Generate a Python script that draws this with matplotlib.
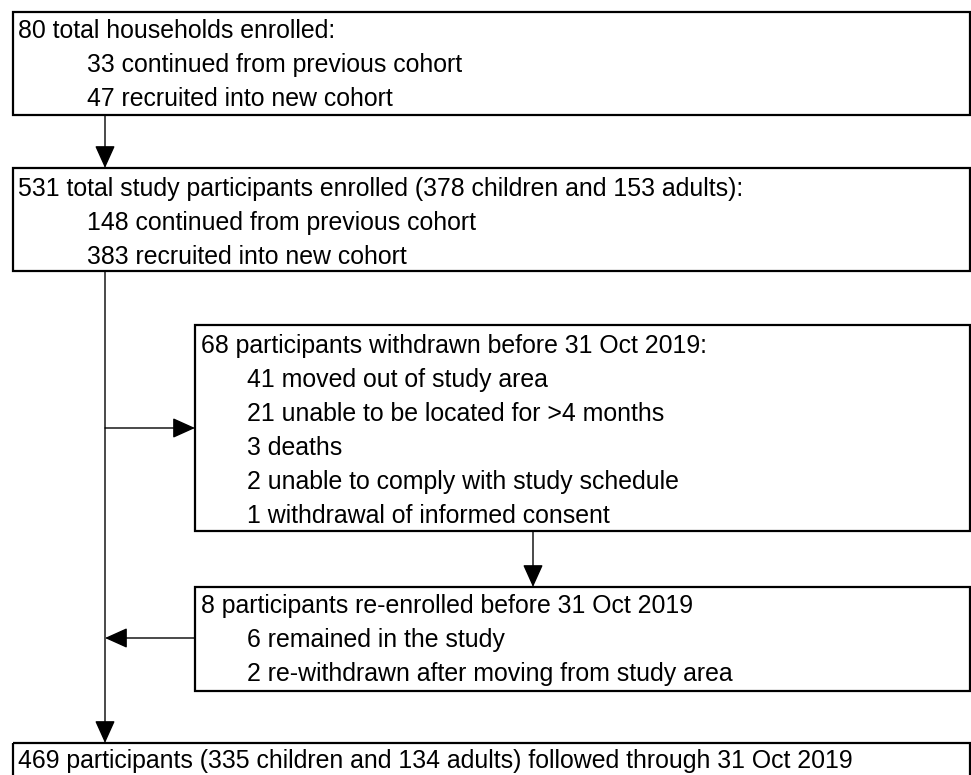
import matplotlib.pyplot as plt
from matplotlib.patches import Rectangle, FancyArrowPatch

plt.rcParams['font.family'] = ['Liberation Sans', 'DejaVu Sans']

households_header = "80 total households enrolled:"
households_items = ["33 continued from previous cohort", "47 recruited into new cohort"]

enrolled_header = "531 total study participants enrolled (378 children and 153 adults):"
enrolled_items = ["148 continued from previous cohort", "383 recruited into new cohort"]

withdrawn_header = "68 participants withdrawn before 31 Oct 2019:"
withdrawn_items = ["41 moved out of study area",
                   "21 unable to be located for >4 months",
                   "3 deaths",
                   "2 unable to comply with study schedule",
                   "1 withdrawal of informed consent"]

reenrolled_header = "8 participants re-enrolled before 31 Oct 2019"
reenrolled_items = ["6 remained in the study",
                    "2 re-withdrawn after moving from study area"]

final_header = "469 participants (335 children and 134 adults) followed through 31 Oct 2019"

W, H = 971, 775
fig = plt.figure(figsize=(W / 100, H / 100), dpi=100)
ax = fig.add_axes([0, 0, 1, 1])
ax.set_xlim(0, W)
ax.set_ylim(H, 0)
ax.axis('off')

fs = 17.9
line_h = 34


def box(x0, y0, x1, y1, header, items, hx, ix, base):
    ax.add_patch(Rectangle((x0, y0), x1 - x0, y1 - y0, fill=False,
                           edgecolor='black', linewidth=1.6))
    ax.text(hx, base, header, fontsize=fs, va='baseline', ha='left')
    for k, s in enumerate(items):
        ax.text(ix, base + line_h * (k + 1), s, fontsize=fs, va='baseline', ha='left')


def arrow(p0, p1):
    ax.add_patch(FancyArrowPatch(p0, p1, arrowstyle='-|>,head_length=1.0,head_width=0.45',
                                 mutation_scale=14, color='black', linewidth=1.0,
                                 shrinkA=0, shrinkB=0))


box(13, 12, 970, 115, households_header, households_items, 18, 87, 38)
box(13, 168, 970, 271, enrolled_header, enrolled_items, 18, 87, 196)
box(195, 325, 970, 531, withdrawn_header, withdrawn_items, 201, 247, 353)
box(195, 587, 970, 691, reenrolled_header, reenrolled_items, 201, 247, 613)
box(13, 743, 970, 800, final_header, [], 18, 87, 768)

vx = 105
arrow((vx, 115), (vx, 168))
arrow((vx, 271), (vx, 743))
arrow((vx, 428), (195, 428))
arrow((195, 638), (vx, 638))
arrow((533, 531), (533, 587))

fig.savefig('out.png', dpi=100)
